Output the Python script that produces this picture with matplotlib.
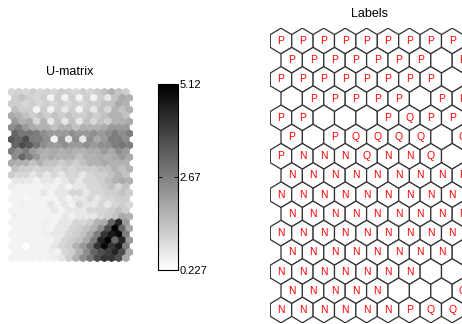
import numpy as np
import matplotlib
matplotlib.use('Agg')
import matplotlib.pyplot as plt
from matplotlib.collections import PolyCollection
from matplotlib.colors import Normalize

plt.rcParams['font.family'] = ['Liberation Sans', 'DejaVu Sans']

# U-matrix values (29 x 17 hex grid)
umat = np.array([
    [1.0, 1.1, 1.0, 1.2, 1.0, 1.1, 1.0, 1.2, 1.1, 1.0, 1.2, 1.0, 1.2, 1.4, 1.7, 1.4, 1.2],
    [1.2, 1.4, 1.2, 1.0, 1.2, 0.5, 1.2, 0.5, 1.2, 0.5, 1.2, 0.5, 1.2, 0.7, 1.4, 1.9, 1.7],
    [1.2, 1.2, 1.0, 1.2, 1.0, 1.2, 1.0, 1.2, 1.0, 1.2, 1.0, 1.2, 1.2, 1.4, 1.4, 1.9, 1.7],
    [1.4, 1.2, 1.2, 0.5, 1.2, 0.5, 1.2, 0.7, 1.2, 0.5, 1.2, 0.7, 1.4, 1.0, 1.7, 1.4, 1.7],
    [1.9, 1.7, 1.4, 1.2, 1.4, 1.2, 1.4, 1.2, 1.4, 1.2, 1.2, 1.4, 1.2, 1.4, 1.7, 1.7, 1.4],
    [2.2, 1.7, 1.9, 1.0, 1.7, 0.7, 1.4, 0.7, 1.4, 0.7, 1.4, 1.0, 1.4, 1.2, 1.7, 1.7, 1.9],
    [2.4, 2.7, 2.2, 1.9, 1.7, 1.7, 1.4, 1.7, 1.7, 1.4, 1.7, 1.7, 1.7, 1.9, 2.2, 2.2, 2.2],
    [3.2, 2.9, 2.9, 2.7, 2.4, 2.2, 2.2, 2.2, 2.4, 2.2, 2.2, 2.4, 2.2, 2.4, 2.7, 2.4, 2.7],
    [3.4, 3.2, 3.6, 2.7, 2.7, 2.4, 0.5, 2.4, 0.7, 2.4, 0.7, 2.4, 1.9, 2.2, 2.7, 2.7, 2.4],
    [3.2, 3.6, 3.4, 2.9, 2.4, 2.2, 2.2, 2.4, 2.2, 2.2, 2.4, 2.2, 2.4, 2.4, 2.7, 2.9, 2.7],
    [2.7, 2.4, 2.7, 2.2, 1.9, 1.7, 1.9, 1.7, 1.9, 1.7, 1.7, 1.9, 1.9, 2.2, 1.9, 2.4, 2.2],
    [2.4, 3.2, 2.7, 2.2, 1.7, 1.9, 1.7, 1.7, 1.7, 1.4, 1.7, 1.7, 1.9, 1.7, 1.9, 2.2, 1.9],
    [1.9, 1.7, 1.7, 1.4, 1.7, 1.4, 1.4, 1.2, 1.4, 1.2, 1.4, 1.7, 1.7, 1.9, 1.7, 1.7, 1.7],
    [1.4, 1.2, 1.2, 1.0, 1.2, 1.2, 1.0, 1.2, 1.0, 1.2, 1.2, 1.2, 1.4, 1.4, 1.7, 1.4, 1.7],
    [1.2, 1.0, 1.0, 0.7, 1.0, 0.7, 1.0, 0.7, 1.0, 1.0, 0.7, 1.0, 1.2, 1.2, 1.4, 1.7, 1.4],
    [0.7, 0.7, 0.7, 0.5, 0.7, 0.7, 0.5, 0.7, 1.0, 0.7, 1.0, 1.0, 1.2, 1.4, 1.7, 1.9, 1.7],
    [0.6, 0.5, 0.5, 0.5, 0.5, 0.6, 0.5, 0.7, 0.5, 0.7, 0.7, 1.0, 1.0, 1.2, 1.4, 1.0, 1.4],
    [0.5, 0.5, 0.5, 0.5, 0.7, 0.5, 0.7, 0.7, 1.0, 1.0, 0.7, 1.0, 1.0, 1.2, 1.2, 1.4, 1.2],
    [0.5, 0.5, 0.4, 0.5, 0.5, 0.5, 0.5, 0.7, 0.5, 0.7, 0.7, 1.0, 0.7, 1.0, 1.0, 1.2, 1.2],
    [0.5, 0.6, 0.5, 0.5, 0.5, 0.7, 0.5, 0.7, 0.5, 1.0, 0.7, 0.7, 1.0, 0.7, 1.0, 1.2, 1.0],
    [0.5, 0.5, 0.5, 0.5, 0.5, 0.5, 0.7, 0.5, 0.7, 0.7, 0.7, 1.0, 1.0, 1.0, 1.2, 1.4, 1.2],
    [0.6, 0.5, 0.5, 0.5, 0.5, 0.5, 0.5, 0.7, 0.5, 0.7, 0.7, 0.7, 1.0, 1.2, 1.4, 1.9, 1.7],
    [0.5, 0.5, 0.5, 0.5, 0.5, 0.6, 0.5, 0.7, 0.7, 1.0, 1.0, 1.2, 1.7, 1.9, 3.2, 4.4, 2.2],
    [0.5, 0.5, 0.5, 0.5, 0.6, 0.5, 0.7, 0.7, 1.0, 1.2, 1.4, 1.7, 2.4, 3.6, 5.12, 3.2, 1.9],
    [0.5, 0.5, 0.5, 0.5, 0.5, 0.6, 0.7, 0.7, 1.0, 1.2, 1.4, 1.9, 2.7, 4.1, 4.6, 4.9, 2.7],
    [0.5, 0.5, 0.5, 0.5, 0.5, 0.5, 0.7, 1.0, 1.2, 1.4, 1.9, 2.7, 4.4, 5.1, 3.2, 4.4, 2.2],
    [0.5, 0.5, 0.227, 0.5, 0.5, 0.5, 0.7, 1.0, 1.2, 1.7, 2.2, 2.9, 4.1, 4.9, 4.1, 4.6, 2.7],
    [0.5, 0.5, 0.5, 0.5, 0.5, 0.6, 0.5, 1.0, 1.2, 1.7, 2.4, 3.2, 3.6, 3.9, 4.4, 3.6, 1.9],
    [0.5, 0.5, 0.5, 0.5, 0.5, 0.5, 0.6, 0.7, 1.2, 1.7, 2.4, 2.9, 3.6, 4.1, 4.1, 3.6, 1.9],
])

# map unit labels, 15 rows x 9 columns (blank = no label)
label_rows = [
    'PPPPPPPPP',
    'PPPPPPP P',
    'PPPPPPPP ',
    ' PPPPP PP',
    'PP   PQPP',
    'P PQQQQ Q',
    'PNNNQNNQ ',
    'NNNNNNNNP',
    'NNNNNNNNN',
    'NNNNNNNNN',
    'NNNNNNNNN',
    'NNNNNNNN ',
    'NNNNNNN  ',
    'NNNNN   Q',
    'NNNNNNPQQ',
]

cbar_ticks = [0.227, 2.67, 5.12]
cbar_labels = ['0.227', '2.67', '5.12']

s3 = np.sqrt(3)
hx = np.array([0, 0.5, 0.5, 0, -0.5, -0.5])
hy = np.array([1 / s3, 0.5 / s3, -0.5 / s3, -1 / s3, -0.5 / s3, 0.5 / s3])


def hex_grid(nrows, ncols):
    verts, centers = [], []
    for r in range(nrows):
        for c in range(ncols):
            cx = c + 0.5 * (r % 2)
            cy = r * s3 / 2
            verts.append(np.column_stack([cx + hx, cy + hy]))
            centers.append((cx, cy))
    return verts, centers


W, H = 462, 324
fig = plt.figure(figsize=(W / 100, H / 100), dpi=100)

# U-matrix
nr, nc = umat.shape
ax1 = fig.add_axes([8 / W, 1 - 262 / H, 125 / W, 174 / H])
verts, _ = hex_grid(nr, nc)
norm = Normalize(vmin=cbar_ticks[0], vmax=cbar_ticks[-1])
cmap = plt.get_cmap('gray_r', 64)
pc = PolyCollection(verts, array=umat.ravel(), cmap=cmap, norm=norm,
                    edgecolors='face', linewidths=0.3)
ax1.add_collection(pc)
ax1.set_xlim(-0.5, nc)
ax1.set_ylim((nr - 1) * s3 / 2 + 1 / s3, -1 / s3)
ax1.axis('off')
fig.text(70 / W, 1 - 72 / H, 'U-matrix', ha='center', va='center', fontsize=9)

# colorbar
cax = fig.add_axes([158 / W, 1 - 270 / H, 20 / W, 186 / H])
cb = fig.colorbar(pc, cax=cax, ticks=cbar_ticks)
cb.set_ticklabels(cbar_labels)
cb.outline.set_linewidth(0.8)
cax.tick_params(direction='in', length=3, width=0.6, left=True, right=True,
                labelleft=False, labelright=True, labelsize=8, pad=1)

# labels map
lr, lc = len(label_rows), len(label_rows[0])
ax2 = fig.add_axes([270.3 / W, 1 - 322.8 / H, 203.3 / W, 294.6 / H])
verts2, centers2 = hex_grid(lr, lc)
pc2 = PolyCollection(verts2, facecolors='white', edgecolors='#333333', linewidths=0.9)
ax2.add_collection(pc2)
for (cx, cy), lab in zip(centers2, ''.join(label_rows)):
    if lab != ' ':
        ax2.text(cx, cy, lab, color='red', ha='center', va='center', fontsize=7.5)
ax2.set_xlim(-0.5, lc)
ax2.set_ylim((lr - 1) * s3 / 2 + 1 / s3, -1 / s3)
ax2.axis('off')
fig.text(370 / W, 1 - 14 / H, 'Labels', ha='center', va='center', fontsize=9)

fig.savefig('out.png', dpi=100)
